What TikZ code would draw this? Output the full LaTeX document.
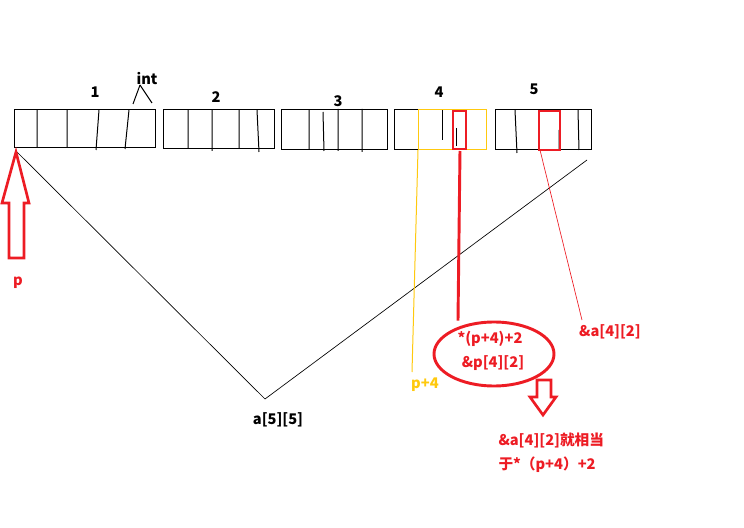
\documentclass[tikz,border=0pt]{standalone}
\usepackage{fontspec}
\setmainfont{Noto Sans CJK SC}
\usetikzlibrary{shapes.geometric}
\definecolor{pred}{RGB}{237,28,36}
\definecolor{pgold}{RGB}{255,201,14}
\begin{document}
\begin{tikzpicture}[x=0.75pt,y=0.75pt,yscale=-1,xscale=1,line width=0.75pt,
	lbl/.style={font=\bfseries\fontsize{11}{13}\selectfont,inner sep=0.75pt},
	thickred/.style={draw=pred,line width=2.2pt}]
	\useasboundingbox (0,0) rectangle (744,528);
	%Block 1
	\draw (14,110) rectangle (155,148);
	\draw (37,110) -- (37,147) (67,110) -- (67,148) (99,110) -- (96,150) (129,110) -- (125,149);
	%Block 2
	\draw (163,110) rectangle (274,149);
	\draw (188,110) -- (188,149) (212,110) -- (212,151) (239,110) -- (239,149) (257,110) -- (259,152);
	%Block 3
	\draw (281,110) rectangle (387,150);
	\draw (309,110) -- (309,150) (323,112) -- (324,151) (338,109) -- (338,151) (362,109) -- (362,152);
	%Block 4
	\draw (394,110) rectangle (486,150);
	\draw (442,110) -- (442,140) (456,128) -- (456,146);
	\draw [pgold] (418,110) rectangle (486,150);
	\draw [thickred] (453,111) rectangle (466,149);
	%Block 5
	\draw (495,110) rectangle (591,150);
	\draw (515,110) -- (517,153) (559,130) -- (559,150) (578,110) -- (579,150);
	\draw [pred,line width=1pt] (539,111) rectangle (560,150);
	%Labels of the rows
	\node [lbl] (n1) at (95,92) {1};
	\node [lbl] (n2) at (216,97) {2};
	\node [lbl] (n3) at (338,101) {3};
	\node [lbl] (n4) at (439,92) {4};
	\node [lbl] (n5) at (534,89) {5};
	\node [lbl] (int) at (147,79) {int};
	\coordinate (intf) at (140,85);
	\coordinate (intl) at (133,104);
	\coordinate (intr) at (152,103);
	\draw (intf) -- (intl);
	\draw (intf) -- (intr);
	%The V
	\coordinate (vleft) at (17,152);
	\coordinate (vtip) at (265,399);
	\coordinate (vright) at (587,160);
	\draw [line width=0.5pt] (vleft) -- (vtip) -- (vright);
	\node [lbl] (arr) at (278,420) {a[5][5]};
	%Pointer p
	\draw [pred,line width=2pt,line join=miter] (16,152) -- (29,203) -- (24,203) -- (24,258) -- (9,258) -- (9,203) -- (2,203) -- cycle;
	\node [lbl,text=pred] (p) at (18,283) {p};
	%p+4
	\coordinate (gtop) at (418,150);
	\node [lbl,text=pgold] (p4) at (425,385) {p+4};
	\draw [pgold] (gtop) -- (412,372);
	%Ellipse
	\node [ellipse,thickred,minimum width=90pt,minimum height=48pt,inner sep=0pt] (note) at (494,354) {};
	\node [lbl,text=pred] (e1) at (490,339) {*(p+4)+2};
	\node [lbl,text=pred] (e2) at (493,363) {\&p[4][2]};
	\coordinate (rtop) at (460,151);
	\draw [thickred] (rtop) -- (note.north -| 458,0);
	%&a[4][2]
	\coordinate (atop) at (540,150);
	\node [lbl,text=pred] (a42) at (610,332) {\&a[4][2]};
	\draw [pred,line width=0.5pt] (atop) -- (582,320);
	%Down arrow
	\draw [pred,line width=2pt,line join=miter] (537,380) -- (551,380) -- (551,397) -- (556,397) -- (543,415) -- (530,397) -- (537,397) -- cycle;
	\node [lbl,text=pred,anchor=west,align=left] (res) at (497,453) {\&a[4][2]就相当\\[5pt]于*（p+4）+2};
\end{tikzpicture}
\end{document}
